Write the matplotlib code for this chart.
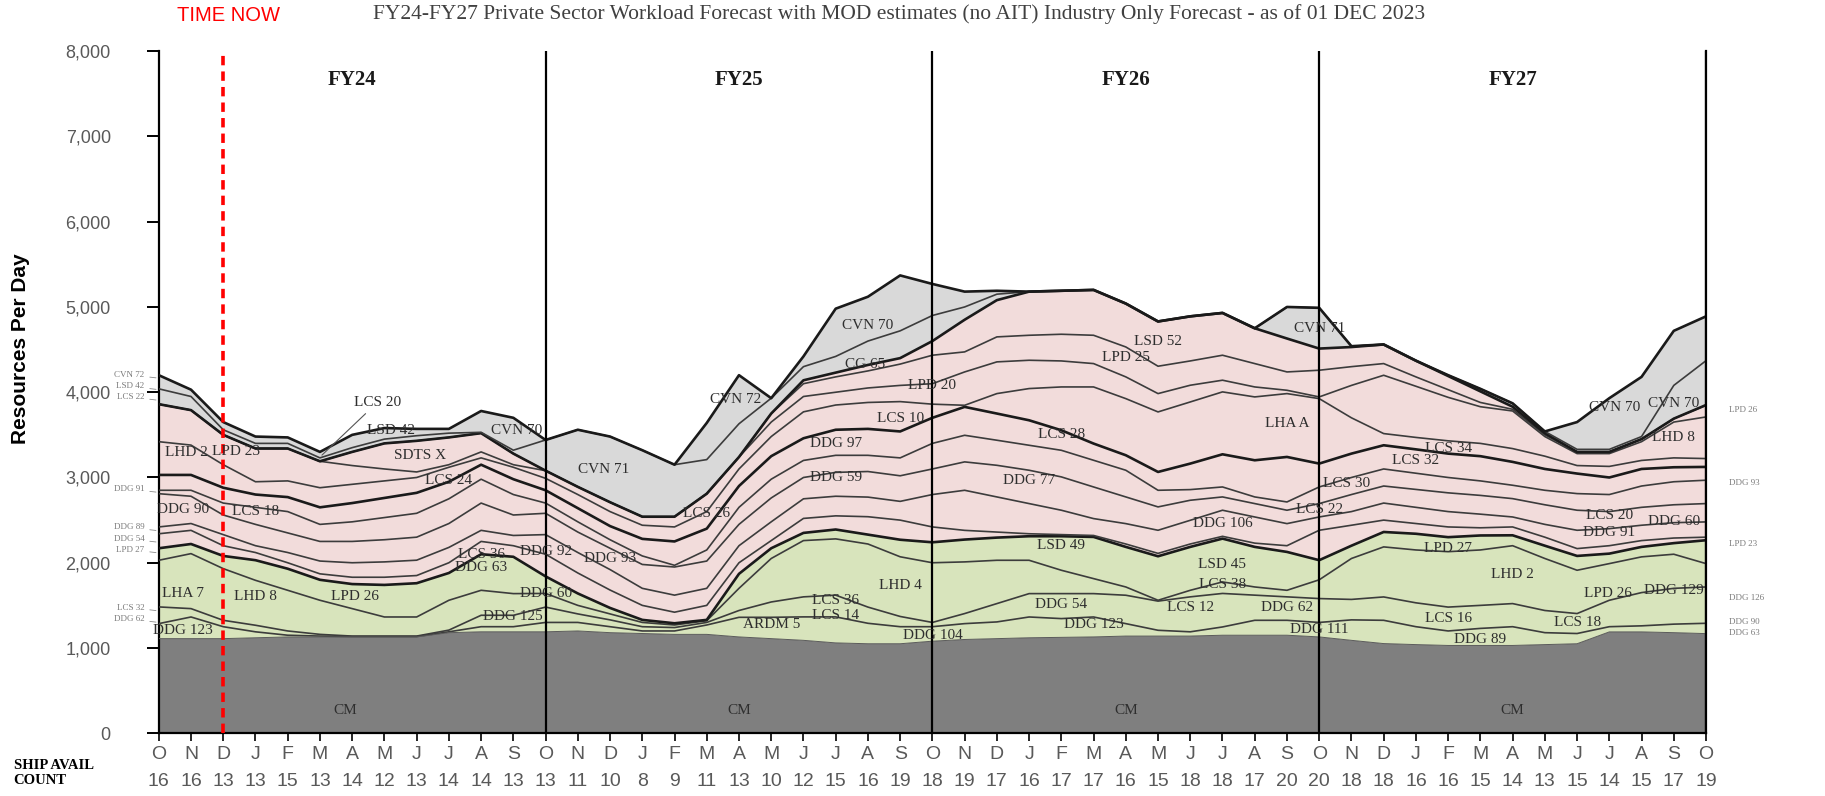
import numpy as np
import matplotlib
matplotlib.use('Agg')
import matplotlib.pyplot as plt

### data (resources per day, cumulative band tops, Oct FY24 .. Oct FY28)
months = ['O', 'N', 'D', 'J', 'F', 'M', 'A', 'M', 'J', 'J', 'A', 'S'] * 4 + ['O']
ship_count = [16, 16, 13, 13, 15, 13, 14, 12, 13, 14, 14, 13,
              13, 11, 10, 8, 9, 11, 13, 10, 12, 15, 16, 19,
              18, 19, 17, 16, 17, 17, 16, 15, 18, 18, 17, 20,
              20, 18, 18, 16, 16, 15, 14, 13, 15, 14, 15, 17,
              19]
fy_names = ['FY24', 'FY25', 'FY26', 'FY27']

cm = [1110, 1110, 1110, 1120, 1130, 1130, 1130, 1130, 1130, 1180, 1190, 1190, 1190,
      1200, 1180, 1170, 1160, 1160, 1130, 1110, 1090, 1060, 1050, 1050, 1080,
      1100, 1110, 1120, 1125, 1130, 1140, 1140, 1140, 1150, 1150, 1150, 1130,
      1090, 1052, 1040, 1030, 1030, 1030, 1040, 1050, 1189, 1189, 1180, 1169]
g1 = [1286, 1364, 1250, 1190, 1150, 1140, 1135, 1135, 1135, 1190, 1250, 1250, 1300,
      1300, 1250, 1200, 1200, 1270, 1360, 1360, 1365, 1365, 1290, 1250, 1250,
      1286, 1306, 1364, 1345, 1364, 1286, 1208, 1190, 1247, 1325, 1325, 1300,
      1330, 1325, 1250, 1200, 1230, 1250, 1180, 1170, 1250, 1260, 1280, 1290]
g2 = [1482, 1462, 1325, 1267, 1200, 1160, 1140, 1140, 1140, 1210, 1384, 1384, 1480,
      1400, 1330, 1250, 1240, 1300, 1440, 1540, 1600, 1620, 1480, 1370, 1300,
      1404, 1521, 1638, 1638, 1638, 1619, 1550, 1600, 1640, 1620, 1600, 1580,
      1570, 1599, 1530, 1480, 1500, 1521, 1440, 1404, 1560, 1650, 1700, 1716]
g3 = [2029, 2107, 1931, 1794, 1677, 1560, 1462, 1364, 1364, 1560, 1677, 1638, 1640,
      1500, 1400, 1300, 1270, 1320, 1700, 2050, 2260, 2280, 2220, 2070, 2000,
      2010, 2029, 2029, 1912, 1814, 1716, 1560, 1677, 1775, 1716, 1677, 1800,
      2050, 2186, 2150, 2130, 2150, 2200, 2050, 1912, 1990, 2069, 2100, 1990]
green_top = [2170, 2220, 2080, 2030, 1930, 1800, 1750, 1740, 1760, 1880, 2100, 2070, 1840,
             1640, 1470, 1330, 1290, 1330, 1870, 2170, 2350, 2390, 2330, 2270, 2240,
             2272, 2295, 2311, 2311, 2303, 2186, 2076, 2186, 2283, 2186, 2127, 2030,
             2200, 2361, 2340, 2300, 2320, 2322, 2200, 2080, 2107, 2186, 2230, 2264]
p1 = [2340, 2380, 2200, 2120, 2000, 1870, 1830, 1830, 1850, 2000, 2250, 2200, 2100,
      1880, 1680, 1500, 1420, 1500, 2000, 2260, 2520, 2550, 2540, 2500, 2420,
      2380, 2360, 2340, 2330, 2320, 2220, 2110, 2220, 2310, 2230, 2200, 2381,
      2440, 2500, 2460, 2420, 2410, 2420, 2300, 2166, 2200, 2260, 2290, 2300]
p2 = [2420, 2460, 2330, 2200, 2120, 2020, 2000, 2010, 2030, 2180, 2380, 2320, 2330,
      2120, 1920, 1700, 1620, 1700, 2200, 2480, 2750, 2780, 2770, 2720, 2800,
      2850, 2772, 2694, 2616, 2518, 2459, 2381, 2498, 2616, 2537, 2459, 2537,
      2600, 2700, 2650, 2600, 2570, 2537, 2450, 2381, 2400, 2440, 2470, 2479]
p3 = [2810, 2780, 2560, 2450, 2350, 2250, 2250, 2270, 2300, 2460, 2700, 2560, 2580,
      2360, 2170, 1980, 1950, 2020, 2450, 2760, 3000, 3060, 3070, 3020, 3100,
      3183, 3143, 3085, 3007, 2889, 2772, 2655, 2733, 2772, 2694, 2616, 2694,
      2800, 2900, 2860, 2820, 2790, 2752, 2680, 2616, 2600, 2650, 2680, 2694]
p4 = [2850, 2850, 2700, 2650, 2600, 2450, 2480, 2530, 2580, 2750, 2980, 2800, 2700,
      2480, 2270, 2080, 1970, 2150, 2650, 2980, 3200, 3260, 3260, 3230, 3400,
      3495, 3437, 3378, 3319, 3202, 3085, 2850, 2858, 2889, 2772, 2713, 2889,
      3000, 3100, 3050, 3000, 2960, 2909, 2850, 2811, 2800, 2900, 2950, 2968]
p5 = [3030, 3030, 2880, 2800, 2770, 2650, 2700, 2760, 2820, 2950, 3150, 2980, 2850,
      2640, 2430, 2280, 2250, 2400, 2900, 3250, 3460, 3560, 3570, 3540, 3700,
      3828, 3750, 3671, 3554, 3398, 3261, 3065, 3163, 3272, 3202, 3241, 3163,
      3280, 3378, 3330, 3280, 3250, 3183, 3100, 3046, 3000, 3100, 3120, 3124]
p6 = [3420, 3380, 3150, 2950, 2960, 2880, 2920, 2960, 3000, 3120, 3230, 3120, 2990,
      2800, 2600, 2440, 2420, 2600, 3100, 3480, 3770, 3850, 3880, 3890, 3860,
      3847, 3984, 4043, 4062, 4062, 3925, 3769, 3886, 4004, 3945, 3984, 3925,
      3700, 3515, 3470, 3430, 3400, 3339, 3250, 3140, 3130, 3200, 3230, 3222]
p7 = [3860, 3790, 3500, 3340, 3340, 3190, 3140, 3100, 3065, 3150, 3300, 3150, 3080,
      2890, 2710, 2540, 2540, 2810, 3240, 3650, 3950, 4000, 4050, 4080, 4100,
      4238, 4356, 4375, 4367, 4336, 4180, 3984, 4082, 4141, 4062, 4023, 3945,
      4080, 4199, 4070, 3940, 3830, 3780, 3480, 3280, 3280, 3420, 3650, 3710]
p8 = [3860, 3790, 3500, 3340, 3340, 3190, 3300, 3400, 3430, 3470, 3520, 3280, 3080,
      2890, 2710, 2540, 2540, 2810, 3240, 3750, 4100, 4180, 4250, 4330, 4434,
      4473, 4649, 4668, 4680, 4668, 4531, 4305, 4367, 4434, 4336, 4238, 4258,
      4300, 4336, 4180, 4030, 3880, 3800, 3500, 3300, 3300, 3450, 3690, 3847]
pink_top = [3860, 3790, 3500, 3340, 3340, 3190, 3300, 3400, 3430, 3470, 3520, 3280, 3080,
            2890, 2710, 2540, 2540, 2810, 3240, 3750, 4140, 4230, 4320, 4400, 4600,
            4850, 5080, 5180, 5190, 5200, 5040, 4830, 4890, 4930, 4750, 4630, 4512,
            4530, 4560, 4370, 4190, 4010, 3830, 3520, 3300, 3300, 3450, 3690, 3850]
gray_mid = [4040, 3950, 3560, 3400, 3400, 3230, 3350, 3450, 3490, 3520, 3530, 3320, 3440,
            3560, 3480, 3320, 3150, 3210, 3630, 3930, 4300, 4420, 4600, 4720, 4900,
            5000, 5150, 5180, 5190, 5200, 5040, 4830, 4890, 4930, 4750, 5000, 4990,
            4540, 4560, 4370, 4200, 4040, 3870, 3540, 3330, 3330, 3480, 4080, 4370]
top = [4200, 4030, 3650, 3480, 3470, 3300, 3500, 3580, 3570, 3570, 3780, 3700, 3440,
       3560, 3480, 3320, 3150, 3640, 4200, 3930, 4420, 4980, 5120, 5370, 5270,
       5180, 5190, 5180, 5190, 5200, 5040, 4830, 4890, 4930, 4750, 5000, 4990,
       4540, 4560, 4370, 4200, 4040, 3870, 3540, 3650, 3930, 4180, 4720, 4890]

# ship labels inside the bands (text, month position, resources)
ship_labels = [
    ('LHD 2', 0.85, 3290), ('LPD 23', 2.4, 3310), ('LSD 42', 7.2, 3550), ('SDTS X', 8.1, 3260),
    ('LCS 24', 9.0, 2960), ('CVN 70', 11.1, 3550), ('DDG 90', 0.75, 2630), ('LCS 18', 3.0, 2600),
    ('LCS 36', 10.0, 2100), ('DDG 63', 10.0, 1940), ('DDG 92', 12.0, 2130), ('DDG 60', 12.0, 1640),
    ('LHA 7', 0.75, 1640), ('LHD 8', 3.0, 1600), ('LPD 26', 6.1, 1600), ('DDG 125', 11.0, 1370),
    ('DDG 123', 0.75, 1200), ('CM', 5.8, 270),
    ('CVN 71', 13.8, 3090), ('CVN 72', 17.9, 3920), ('LCS 26', 17.0, 2580), ('DDG 93', 14.0, 2050),
    ('CVN 70', 22.0, 4780), ('CG 65', 21.9, 4330), ('LPD 20', 24.0, 4080), ('LCS 10', 23.0, 3690),
    ('DDG 97', 21.0, 3400), ('DDG 59', 21.0, 3000), ('LHD 4', 23.0, 1730), ('LCS 36', 21.0, 1560),
    ('LCS 14', 21.0, 1380), ('ARDM 5', 19.0, 1270), ('DDG 104', 24.0, 1150), ('CM', 18.0, 270),
    ('LSD 52', 31.0, 4590), ('LPD 25', 30.0, 4410), ('LCS 28', 28.0, 3510), ('DDG 77', 27.0, 2960),
    ('LHA A', 35.0, 3630), ('DDG 106', 33.0, 2460), ('LCS 22', 36.0, 2620), ('LSD 49', 28.0, 2200),
    ('LSD 45', 33.0, 1980), ('LCS 38', 33.0, 1750), ('DDG 54', 28.0, 1515), ('LCS 12', 32.0, 1475),
    ('DDG 62', 35.0, 1475), ('DDG 123', 29.0, 1270), ('DDG 111', 36.0, 1215), ('CVN 71', 36.0, 4750),
    ('CM', 30.0, 270),
    ('LCS 30', 36.85, 2935), ('LCS 32', 39.0, 3195), ('LCS 34', 40.0, 3345), ('LPD 27', 40.0, 2170),
    ('LHD 2', 42.0, 1860), ('LCS 16', 40.0, 1350), ('DDG 89', 41.0, 1105), ('LCS 18', 44.0, 1300),
    ('LCS 20', 45.0, 2555), ('DDG 91', 45.0, 2360), ('DDG 60', 47.0, 2485), ('LHD 8', 47.0, 3470),
    ('CVN 70', 45.15, 3820), ('CVN 70', 47.0, 3865), ('LPD 26', 44.95, 1640), ('DDG 129', 47.0, 1680),
    ('CM', 42.0, 270),
]
left_names = ['CVN 72', 'LSD 42', 'LCS 22', 'DDG 91', 'DDG 89', 'DDG 54', 'LPD 27', 'LCS 32', 'DDG 62']
left_y = [4205, 4070, 3945, 2865, 2415, 2280, 2155, 1475, 1340]
right_names = ['LPD 26', 'DDG 93', 'LPD 23', 'DDG 126', 'DDG 90', 'DDG 63']
right_y = [3795, 2935, 2225, 1585, 1310, 1175]

### plot settings
serif = ['Liberation Serif', 'DejaVu Serif']
sans = ['Liberation Sans', 'DejaVu Sans']
narrow = ['Liberation Sans Narrow', 'DejaVu Sans Condensed', 'Liberation Sans']

x = np.arange(len(months))
bounds = np.array([cm, g1, g2, g3, green_top, p1, p2, p3, p4, p5, p6, p7, p8,
                   pink_top, gray_mid, top], dtype=float)
layers = np.clip(np.diff(np.vstack([np.zeros(len(x)), bounds]), axis=0), 0, None)
colors = ['#7f7f7f'] + ['#d8e4bc'] * 4 + ['#f2dcdb'] * 9 + ['#d9d9d9'] * 2

fig = plt.figure(figsize=(18.25, 7.96), dpi=100)
ax = fig.add_axes([0.087, 0.0788, 0.8478, 0.8569])

ax.stackplot(x, layers, colors=colors, linewidth=0)
stacked = np.cumsum(layers, axis=0)
thick = {4, 9, 13, 15}
for k in range(1, len(stacked)):
    if k in thick:
        ax.plot(x, stacked[k], color='#1a1a1a', lw=1.9, zorder=3)
    else:
        ax.plot(x, stacked[k], color='#3c3c3c', lw=1.2, zorder=3)
ax.plot(x, stacked[0], color='#5a5a5a', lw=0.7, zorder=3)

# fiscal year dividers and time-now marker
for k in range(1, 4):
    ax.axvline(12 * k, color='black', lw=1.6, zorder=4)
ax.axvline(48, color='black', lw=1.6, zorder=4)
ax.axvline(2, color='red', lw=2.6, linestyle=(0, (2.6, 1.7)), zorder=5)
for k, name in enumerate(fy_names):
    ax.text(12 * k + 6, 7660, name, ha='center', va='center', family=serif,
            fontweight='bold', fontsize=15, color='#1a1a1a')

for name, xi, yi in ship_labels:
    ax.text(xi, yi, name, ha='center', va='center', family=serif, fontsize=11,
            color='#2e2e2e', zorder=6)
ax.annotate('LCS 20', xy=(5.0, 3240), xytext=(6.05, 3880), ha='left', va='center',
            family=serif, fontsize=11, color='#2e2e2e',
            arrowprops=dict(arrowstyle='-', color='#555555', lw=0.8), zorder=6)

for name, yi in zip(left_names, left_y):
    ax.annotate(name, xy=(0, yi - 40), xytext=(-0.45, yi), ha='right', va='center',
                family=serif, fontsize=6.5, color='#7a7a7a', annotation_clip=False,
                arrowprops=dict(arrowstyle='-', color='#8a8a8a', lw=0.6))
for name, yi in zip(right_names, right_y):
    ax.text(48.7, yi, name, ha='left', va='center', family=serif, fontsize=6.5,
            color='#7a7a7a', clip_on=False)

# axes
ax.set_xlim(0, 48)
ax.set_ylim(0, 8000)
ax.set_yticks(np.arange(0, 8001, 1000))
ax.set_yticklabels([f'{v:,}' for v in range(0, 8001, 1000)], family=sans,
                   fontsize=13, color='#595959')
ax.set_xticks(x)
ax.set_xticklabels([f'{m}\n{c}' for m, c in zip(months, ship_count)], family=narrow,
                   fontsize=14, color='#595959', linespacing=1.72)
ax.tick_params(axis='y', direction='out', length=8.5, width=1.4, pad=26, color='black')
ax.tick_params(axis='x', direction='out', length=6, width=1.2, pad=3.5, color='black')
for side in ['left', 'bottom', 'right']:
    ax.spines[side].set_linewidth(1.6)
    ax.spines[side].set_color('black')
ax.spines['top'].set_visible(False)

fig.text(0.0115, 0.562, 'Resources Per Day', rotation=90, ha='center', va='center',
         family=sans, fontweight='bold', fontsize=15)
fig.text(0.0075, 0.029, 'SHIP AVAIL\nCOUNT', ha='left', va='center', family=serif,
         fontweight='bold', fontsize=10.5, linespacing=1.25)
fig.text(0.4926, 0.982, 'FY24-FY27 Private Sector Workload Forecast with MOD estimates (no AIT) '
         'Industry Only Forecast - as of 01 DEC 2023', ha='center', va='center',
         family=serif, fontsize=15.5, color='#404040')
fig.text(0.1253, 0.980, 'TIME NOW', ha='center', va='center', family=sans,
         fontsize=14.5, color='red')

fig.savefig('out.png', dpi=100)
